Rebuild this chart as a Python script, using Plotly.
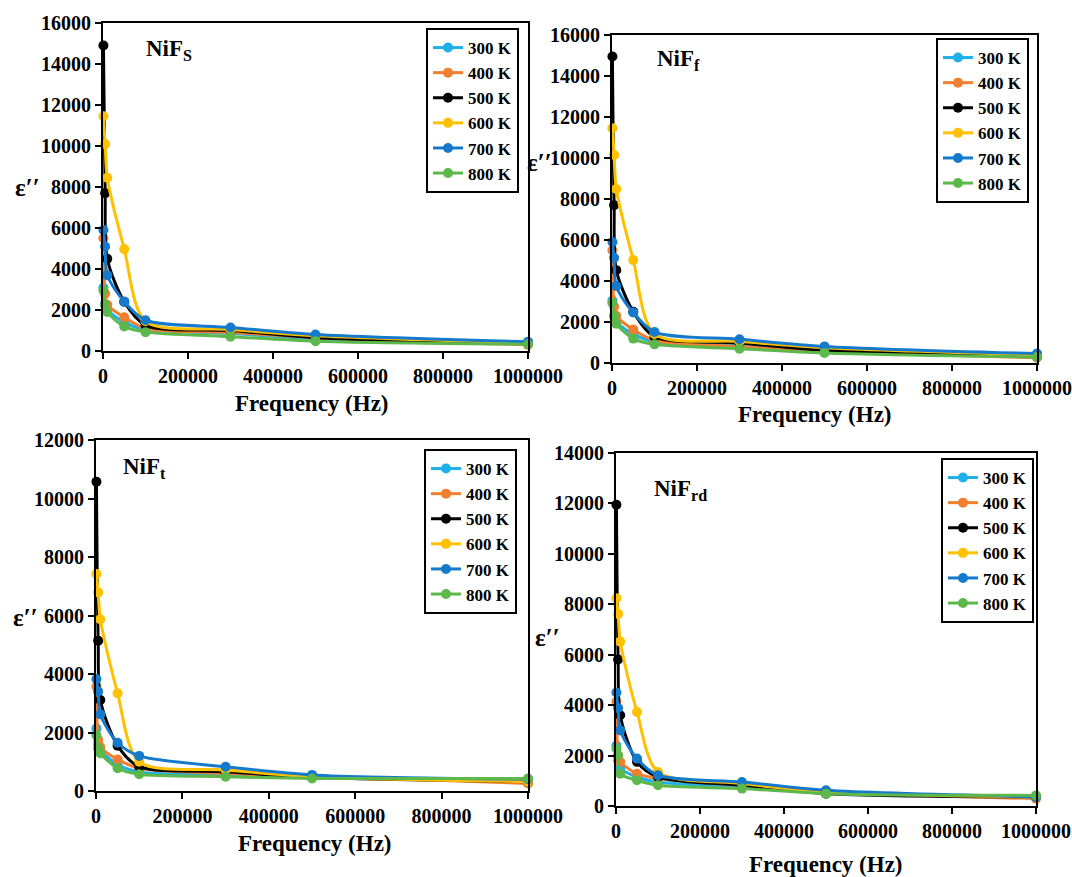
import plotly.graph_objects as go

W, H = 1072, 877

# ---------------- data ----------------
freq = [1000, 5000, 10000, 50000, 100000, 300000, 500000, 1000000]
temps = ["300 K", "400 K", "500 K", "600 K", "700 K", "800 K"]
colors = ["#1EB0E8", "#F07F30", "#000000", "#FFC000", "#157ACC", "#5DB84C"]
x_ticks = [0, 200000, 400000, 600000, 800000, 1000000]

# NiF_S (top-left)
nifs_300 = [3100, 2300, 2000, 1400, 1050, 850, 600, 400]
nifs_400 = [5500, 2800, 2250, 1650, 1100, 900, 650, 300]
nifs_500 = [14900, 7700, 4500, 2400, 1250, 1000, 650, 400]
nifs_600 = [11450, 10100, 8450, 4970, 1450, 1050, 750, 400]
nifs_700 = [5900, 5100, 3700, 2400, 1500, 1150, 800, 450]
nifs_800 = [2950, 2250, 1900, 1200, 920, 700, 480, 330]

# NiF_f (top-right)
niff_300 = [3050, 2300, 2000, 1400, 1050, 850, 600, 400]
niff_400 = [5500, 2750, 2300, 1630, 1100, 800, 560, 260]
niff_500 = [14950, 7700, 4530, 2500, 1270, 980, 620, 330]
niff_600 = [11450, 10150, 8490, 5020, 1420, 1050, 750, 400]
niff_700 = [5900, 5130, 3760, 2460, 1510, 1160, 810, 460]
niff_800 = [2930, 2280, 1920, 1190, 910, 700, 490, 290]

# NiF_t (bottom-left)
nift_300 = [2140, 1600, 1400, 900, 650, 550, 480, 350]
nift_400 = [3570, 1750, 1500, 1080, 780, 600, 510, 260]
nift_500 = [10575, 5140, 3110, 1550, 830, 660, 470, 320]
nift_600 = [7420, 6790, 5870, 3340, 1000, 720, 490, 320]
nift_700 = [3830, 3400, 2620, 1650, 1200, 830, 550, 400]
nift_800 = [1910, 1460, 1290, 780, 570, 490, 430, 430]

# NiF_rd (bottom-right)
nifrd_300 = [2400, 1800, 1500, 1150, 950, 750, 550, 350]
nifrd_400 = [4130, 2000, 1750, 1280, 1090, 820, 580, 290]
nifrd_500 = [11950, 5810, 3600, 1750, 1150, 820, 490, 360]
nifrd_600 = [8240, 7620, 6520, 3730, 1350, 890, 560, 360]
nifrd_700 = [4500, 3890, 3000, 1880, 1220, 950, 620, 360]
nifrd_800 = [2280, 2010, 1280, 1020, 820, 690, 490, 420]

panels = [
    dict(name="NiF<sub>S</sub>", series=[nifs_300, nifs_400, nifs_500, nifs_600, nifs_700, nifs_800],
         ymax=16000, box=(103, 528, 23, 351), legend=(426, 28), label=(169, 50), eps=(27, 188), xt=(312, 403)),
    dict(name="NiF<sub>f</sub>", series=[niff_300, niff_400, niff_500, niff_600, niff_700, niff_800],
         ymax=16000, box=(612, 1037, 35, 363), legend=(936, 38), label=(678, 60), eps=(539, 162), xt=(815, 414)),
    dict(name="NiF<sub>t</sub>", series=[nift_300, nift_400, nift_500, nift_600, nift_700, nift_800],
         ymax=12000, box=(96, 528, 440, 791), legend=(424, 449), label=(144, 468), eps=(25, 617), xt=(315, 843)),
    dict(name="NiF<sub>rd</sub>", series=[nifrd_300, nifrd_400, nifrd_500, nifrd_600, nifrd_700, nifrd_800],
         ymax=14000, box=(616, 1036, 453, 806), legend=(941, 458), label=(680, 490), eps=(547, 637), xt=(826, 864)),
]

FONT = "Liberation Serif"
fig = go.Figure()
annotations = []
layout = dict(template="none", width=W, height=H, margin=dict(l=0, r=0, t=0, b=0, pad=0),
              autosize=False, paper_bgcolor="white", plot_bgcolor="white", showlegend=True,
              font=dict(family=FONT, color="black"))


def note(xy, text, size):
    return dict(x=xy[0] / W, y=1 - xy[1] / H, xref="paper", yref="paper",
                xanchor="center", yanchor="middle", text=text, showarrow=False,
                font=dict(family=FONT, size=size, color="black"))


for i, p in enumerate(panels):
    k = "" if i == 0 else str(i + 1)
    xa, ya = "x" + k, "y" + k
    lg = "legend" + k
    x0, x1, yt, yb = p["box"]
    for t, c, vals in zip(temps, colors, p["series"]):
        fig.add_trace(go.Scatter(
            x=freq, y=vals, name=t, mode="lines+markers",
            line=dict(color=c, width=3, shape="spline", smoothing=0.8),
            marker=dict(color=c, size=10, symbol="circle", line=dict(width=0)),
            xaxis=xa, yaxis=ya, legend=lg, cliponaxis=False))
    axis_common = dict(showline=True, linecolor="black", linewidth=2, mirror=True,
                       ticks="outside", ticklen=6, tickwidth=2, tickcolor="black",
                       showgrid=False, zeroline=False, automargin=False,
                       ticklabeloverflow="allow",
                       tickfont=dict(family=FONT, size=20, color="black", weight="bold"))
    layout["xaxis" + k] = dict(domain=[x0 / W, x1 / W], range=[0, 1000000], anchor=ya,
                               tickvals=x_ticks, ticktext=[str(v) for v in x_ticks], **axis_common)
    layout["yaxis" + k] = dict(domain=[1 - yb / H, 1 - yt / H], range=[0, p["ymax"]], anchor=xa,
                               dtick=2000, tickformat="d", **axis_common)
    lx, ly = p["legend"]
    layout[lg] = dict(x=lx / W, y=1 - ly / H, xanchor="left", yanchor="top",
                      bgcolor="white", bordercolor="black", borderwidth=2,
                      font=dict(family=FONT, size=17, color="black", weight="bold"),
                      itemwidth=30, tracegroupgap=0)
    annotations.append(note(p["label"], "<b>" + p["name"] + "</b>", 23))
    annotations.append(note(p["eps"], "<b>ε′′</b>", 25))
    annotations.append(note(p["xt"], "<b>Frequency (Hz)</b>", 23))

layout["annotations"] = annotations
fig.update_layout(**layout)
fig.write_html("out.html", config={"displayModeBar": False},
               post_script="document.body.style.margin='0';")
